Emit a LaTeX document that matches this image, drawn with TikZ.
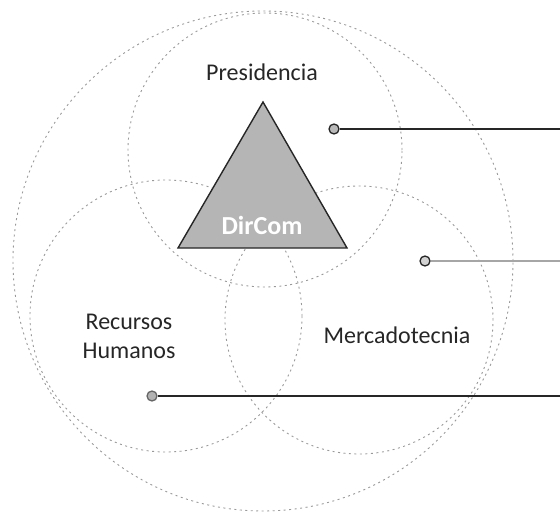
\documentclass[tikz,border=0pt]{standalone}
\usepackage{fontspec}
\setmainfont{Carlito}
\definecolor{ringgray}{gray}{0.6}
\definecolor{inkgray}{gray}{0.15}
\tikzset{
	ring/.style={draw=ringgray, line width=0.9pt, dash pattern=on 2pt off 3.5pt},
	area/.style={text=inkgray, font=\fontsize{24}{29}\selectfont, align=center, inner sep=0pt},
	pin/.style={circle, draw=inkgray, fill=gray!55, line width=1.3pt, inner sep=0pt, minimum size=10pt},
	lead/.style={draw=inkgray, line width=1.3pt},
}

\begin{document}
\begin{tikzpicture}[x=1pt,y=-1pt]
	\useasboundingbox (0,0) rectangle (560,516);
	% the four rings
	\draw [ring] (263,261) circle (250pt);
	\draw [ring] (265,150) circle (137pt);
	\draw [ring] (166,316) circle (136pt);
	\draw [ring] (359,320) circle (134pt);
	% DirCom triangle
	\coordinate (apex) at (263,102);
	\coordinate (baseL) at (178,248);
	\coordinate (baseR) at (347,248);
	\filldraw [draw=inkgray, fill=gray!58, line width=1.4pt] (apex) -- (baseL) -- (baseR) -- cycle;
	\node [text=white, font=\fontsize{26}{30}\selectfont\bfseries, inner sep=0pt] (dircom) at (262,225) {DirCom};
	% labels
	\node [area] (pres) at (262,72) {Presidencia};
	\node [area] (rrhh) at (129,336) {Recursos\\Humanos};
	\node [area] (merc) at (397,335) {Mercadotecnia};
	% leaders
	\node [pin] (pinA) at (334,129) {};
	\node [pin, fill=gray!35] (pinB) at (425,261) {};
	\node [pin, draw=gray!80!black, fill=gray!60] (pinC) at (152,396) {};
	\coordinate (endA) at (560,129);
	\coordinate (endB) at (560,261);
	\coordinate (endC) at (560,396);
	\draw [lead] (pinA) -- (endA);
	\draw [lead, draw=gray!70, line width=2.2pt] (pinB) -- (endB);
	\draw [lead] (pinC) -- (endC);
	%\draw (0,0) node {};
\end{tikzpicture}
\end{document}
